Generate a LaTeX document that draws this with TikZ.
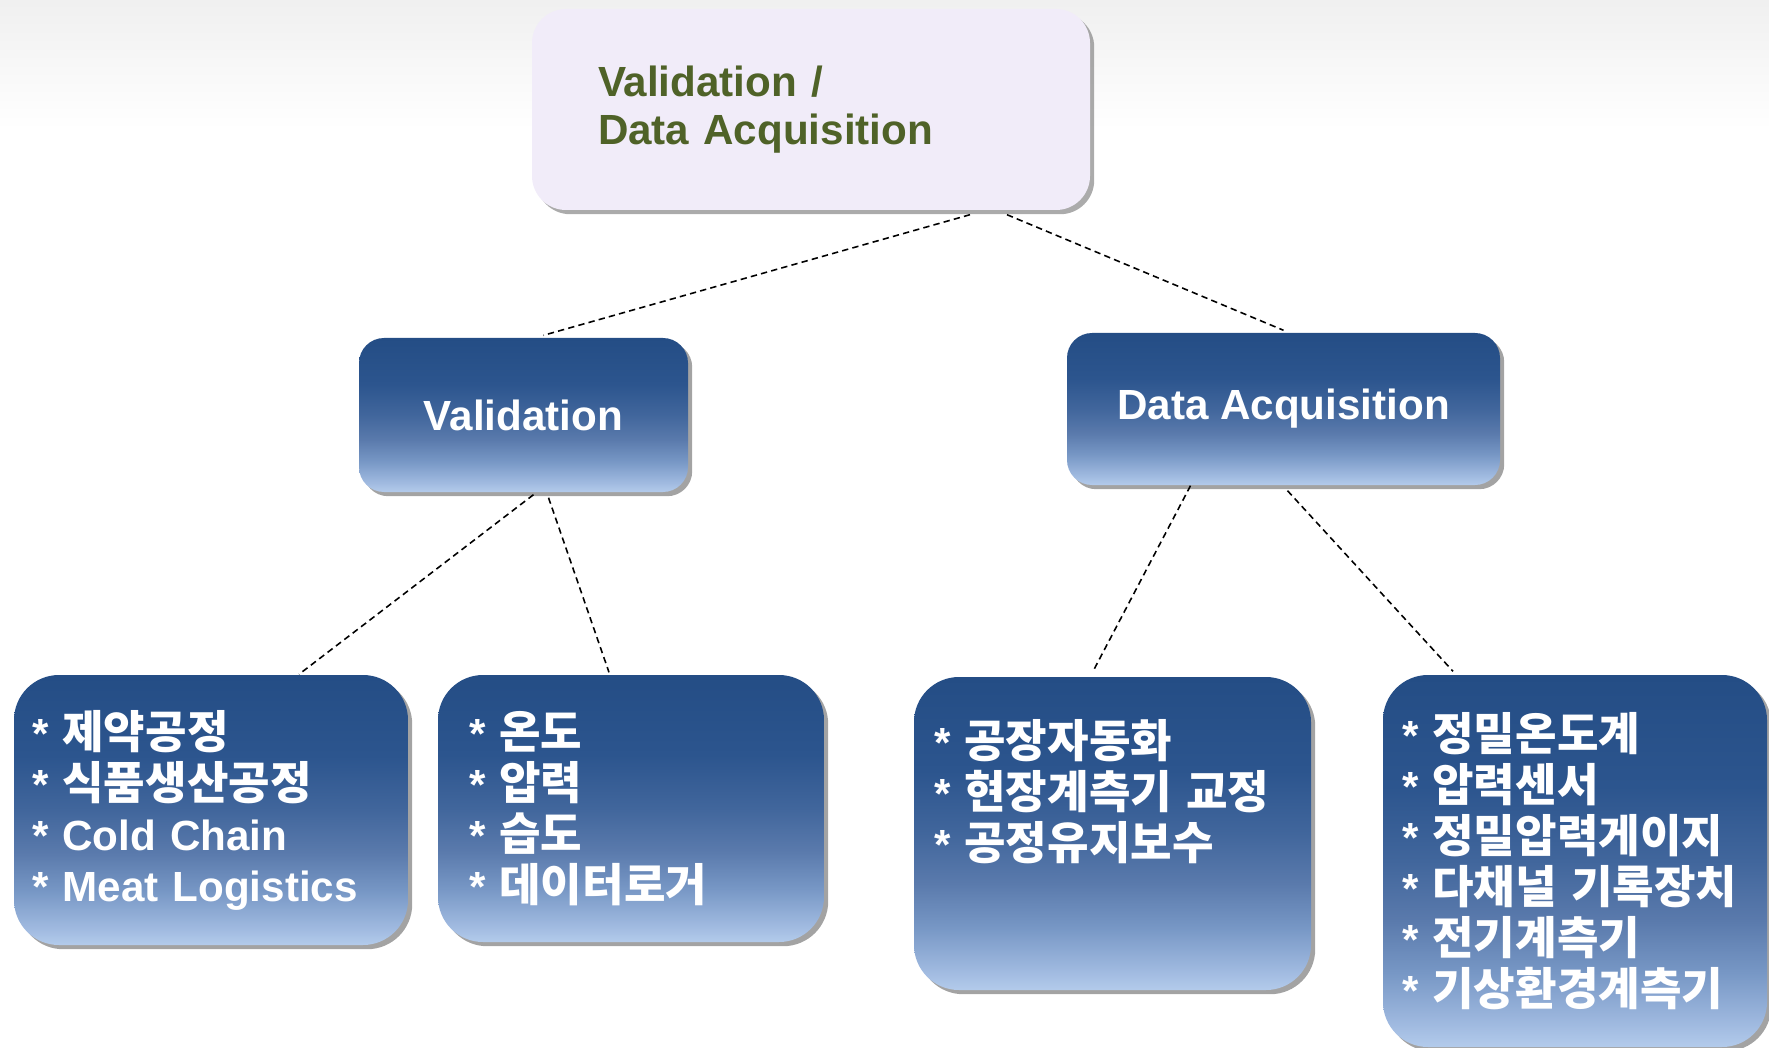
\documentclass[tikz,border=0pt]{standalone}
\usepackage{fontspec}
\setmainfont{Liberation Sans}
\newfontfamily\kofont[Scale=1.07]{Noto Sans CJK KR}
\usetikzlibrary{shadows}
\definecolor{bxdark}{HTML}{244D85}
\definecolor{bxdeep}{HTML}{2C558E}
\definecolor{bxmid}{HTML}{41669C}
\definecolor{bxhalf}{HTML}{5A7AAC}
\definecolor{bxpale}{HTML}{7797C5}
\definecolor{bxsoft}{HTML}{A0BAE0}
\definecolor{bxlight}{HTML}{B3CBEB}
\definecolor{lav}{HTML}{F1ECF9}
\definecolor{olive}{HTML}{4F6228}
\pgfdeclareverticalshading{boxblue}{100bp}{color(0bp)=(bxlight); color(25bp)=(bxlight);
  color(28bp)=(bxsoft); color(35bp)=(bxpale); color(42bp)=(bxhalf); color(50bp)=(bxmid);
  color(60bp)=(bxdeep); color(75bp)=(bxdark); color(100bp)=(bxdark)}
\newcommand{\ko}[1]{{\kofont #1}}
\tikzstyle{hd}=[rounded corners=0.34cm, fill=lav, text=olive, align=left,
  font=\bfseries\fontsize{12}{15}\selectfont,
  drop shadow={shadow xshift=1.2pt, shadow yshift=-1.2pt, fill=black!55, opacity=0.6}]
\tikzstyle{bx}=[rounded corners=0.25cm, shading=boxblue, text=white,
  font=\bfseries\fontsize{12}{14.5}\selectfont,
  drop shadow={shadow xshift=1.2pt, shadow yshift=-1.2pt, fill=black!60, opacity=0.6}]
\tikzstyle{lst}=[bx, rounded corners=0.45cm, align=left]
\tikzstyle{link}=[dash pattern=on 1.8pt off 1.2pt, line width=0.45pt]

\begin{document}
\begin{tikzpicture}
    \useasboundingbox (0,0) rectangle (17.69,-10.48);
    % faint grey at the top
    \fill[top color=black!6, bottom color=white] (0,0) rectangle (17.69,-1.3);

    \node[hd, text width=4.26cm, inner xsep=0.66cm, minimum height=2.01cm] (top) at (8.11,-1.095)
        {\raisebox{-0.05cm}{Validation /}\\Data Acquisition};

    \node[bx, minimum width=3.29cm, minimum height=1.54cm] (val) at (5.235,-4.15) {Validation};
    \node[bx, minimum width=4.33cm, minimum height=1.52cm] (dat) at (12.835,-4.09) {Data Acquisition};

    \node[lst, text width=3.58cm, inner xsep=0.18cm, minimum height=2.70cm] (proc) at (2.11,-8.10)
        {* \ko{제약공정}\\{}* \ko{식품생산공정}\\{}* Cold Chain\\{}* Meat Logistics};
    \node[lst, text width=3.24cm, inner xsep=0.31cm, minimum height=2.67cm] (meas) at (6.31,-8.085)
        {* \ko{온도}\\{}* \ko{압력}\\{}* \ko{습도}\\{}* \ko{데이터로거}};
    \node[lst, text width=3.57cm, inner xsep=0.20cm, minimum height=3.13cm] (serv) at (11.125,-8.335)
        {* \ko{공장자동화}\\{}* \ko{현장계측기 교정}\\{}* \ko{공정유지보수}\\[0.38cm]\mbox{}};
    \node[lst, text width=3.46cm, inner xsep=0.19cm, minimum height=3.72cm] (inst) at (15.75,-8.61)
        {* \ko{정밀온도계}\\{}* \ko{압력센서}\\{}* \ko{정밀압력게이지}\\{}* \ko{다채널 기록장치}\\{}* \ko{전기계측기}\\{}* \ko{기상환경계측기}};

    % dashed links
    \draw[link] ([xshift=1.59cm, yshift=-0.04cm]top.south) -- ([xshift=0.2cm, yshift=0.02cm]val.north);
    \draw[link] ([xshift=1.96cm, yshift=-0.04cm]top.south) -- ([yshift=0.02cm]dat.north);
    \draw[link] ([xshift=0.1cm, yshift=-0.02cm]val.south) -- ([xshift=0.88cm]proc.north);
    \draw[link] ([xshift=0.25cm, yshift=-0.05cm]val.south) -- ([xshift=-0.22cm, yshift=0.02cm]meas.north);
    \draw[link] ([xshift=-0.93cm]dat.south) -- ([xshift=-0.2cm, yshift=0.04cm]serv.north);
    \draw[link] ([xshift=0.04cm, yshift=-0.05cm]dat.south) -- ([xshift=-1.22cm, yshift=0.03cm]inst.north);
\end{tikzpicture}
\end{document}
